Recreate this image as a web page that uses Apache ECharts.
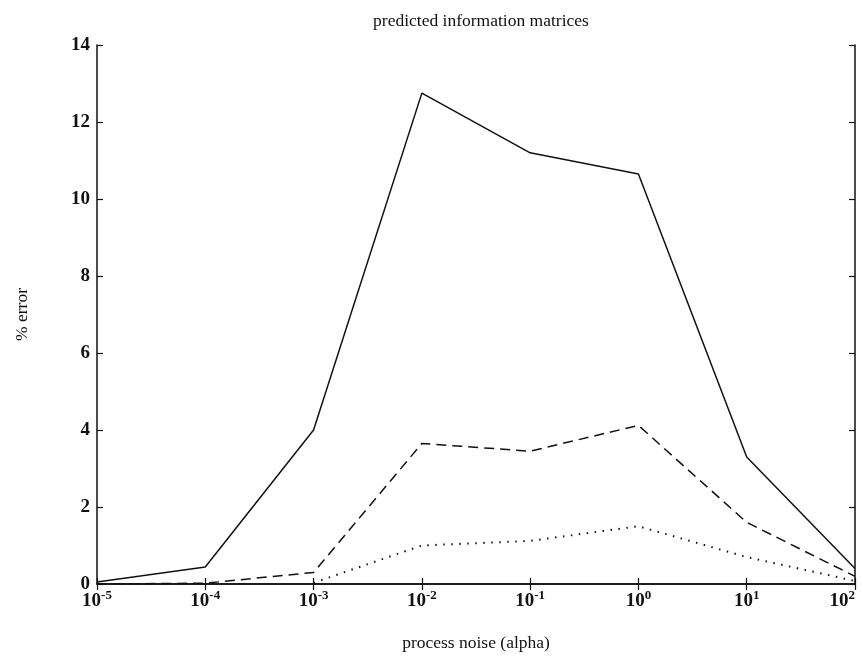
<!DOCTYPE html>
<html>
<head>
<meta charset="utf-8">
<script src="https://cdn.jsdelivr.net/npm/echarts@6/dist/echarts.min.js"></script>
<style>html,body{margin:0;padding:0;background:#fff}#c{width:863px;height:658px}</style>
</head>
<body>
<div id="c"></div>
<script>
// process noise alpha values
const alpha = [1e-5, 1e-4, 1e-3, 1e-2, 1e-1, 1e0, 1e1, 1e2];
const solidErr  = [0.05, 0.44, 4.0, 12.75, 11.2, 10.65, 3.3, 0.4];
const dashedErr = [0.0, 0.02, 0.3, 3.65, 3.45, 4.12, 1.6, 0.2];
const dottedErr = [null, null, 0.03, 1.0, 1.12, 1.5, 0.7, 0.08];
const yTicks = [0, 2, 4, 6, 8, 10, 12, 14];

const FONT = 'Liberation Serif';
const pair = arr => alpha.map((a, i) => [a, arr[i]]);
const supLabel = v => {
  const e = Math.round(Math.log10(v));
  return '{b|10}{s|' + e + '}';
};
const chart = echarts.init(document.getElementById('c'));
const baseX = {
  type: 'log', logBase: 10, min: 1e-5, max: 1e2, splitNumber: 7,
  axisLine: {lineStyle: {color: '#111', width: 1.5}},
  axisTick: {inside: true, length: 6, lineStyle: {color: '#111', width: 1.2}},
  splitLine: {show: false}
};
const baseY = {
  type: 'value', min: yTicks[0], max: yTicks[yTicks.length - 1], interval: 2,
  axisLine: {show: true, lineStyle: {color: '#111', width: 1.5}},
  axisTick: {show: true, inside: true, length: 6, lineStyle: {color: '#111', width: 1.2}},
  splitLine: {show: false}
};
chart.setOption({
  backgroundColor: '#fff',
  animation: false,
  title: {
    text: 'predicted information matrices', left: 476, top: 7, textAlign: 'center',
    textStyle: {fontFamily: FONT, fontSize: 17.5, fontWeight: 'normal', color: '#111'}
  },
  grid: {left: 97, right: 8, top: 45, bottom: 74, containLabel: false, outerBoundsMode: 'none'},
  xAxis: [
    Object.assign({}, baseX, {
      position: 'bottom',
      name: 'process noise (alpha)', nameLocation: 'middle', nameGap: 50,
      nameTextStyle: {fontFamily: FONT, fontSize: 17.5, color: '#111'},
      axisLabel: {
        margin: 5, formatter: supLabel, color: '#111', alignMaxLabel: 'right',
        rich: {
          b: {fontFamily: FONT, fontSize: 19, fontWeight: 'bold', color: '#111', lineHeight: 22, verticalAlign: 'bottom'},
          s: {fontFamily: FONT, fontSize: 13, fontWeight: 'bold', color: '#111', lineHeight: 22, verticalAlign: 'top', padding: [0, 0, 5, 0]}
        }
      }
    }),
    Object.assign({}, baseX, {position: 'top', axisLabel: {show: false}})
  ],
  yAxis: [
    Object.assign({}, baseY, {
      position: 'left',
      name: '% error', nameLocation: 'middle', nameGap: 66, nameRotate: 90,
      nameTextStyle: {fontFamily: FONT, fontSize: 17.5, color: '#111'},
      axisLabel: {margin: 7, fontFamily: FONT, fontSize: 19, fontWeight: 'bold', color: '#111'}
    }),
    Object.assign({}, baseY, {position: 'right', axisLabel: {show: false}})
  ],
  series: [
    {type: 'line', data: pair(solidErr), symbol: 'none', lineStyle: {color: '#111', width: 1.5, type: 'solid'}},
    {type: 'line', data: pair(dashedErr), symbol: 'none', lineStyle: {color: '#111', width: 1.5, type: [10, 6]}},
    {type: 'line', data: pair(dottedErr), symbol: 'none', connectNulls: false, lineStyle: {color: '#111', width: 2, type: [1.5, 6.5]}}
  ]
});
</script>
</body>
</html>
